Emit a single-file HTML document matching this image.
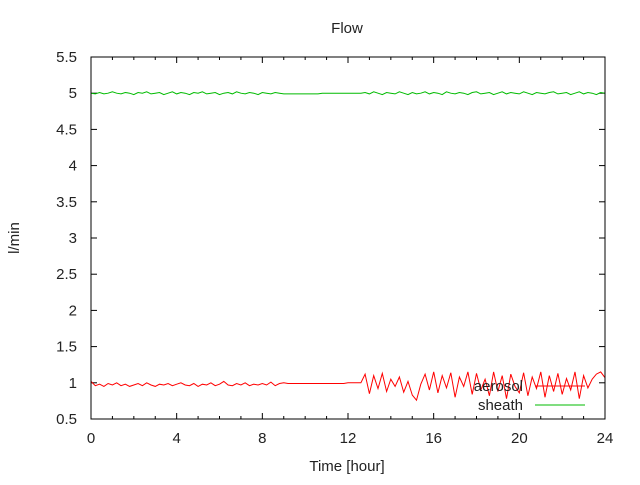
<!DOCTYPE html>
<html><head><meta charset="utf-8"><style>
body{margin:0;background:#fff}
svg text{font-family:"Liberation Sans",sans-serif;font-size:15px;fill:#222}
</style></head><body>
<svg id="c" width="640" height="480">
<rect width="640" height="480" fill="#fff"/>
<text x="347" y="33" text-anchor="middle">Flow</text>
<text x="347" y="471" text-anchor="middle">Time [hour]</text>
<text transform="translate(19,238) rotate(-90)" text-anchor="middle">l/min</text>
<g id="ticks"></g>
<g id="series"></g>
<rect x="91" y="57" width="514" height="362" fill="none" stroke="#000"/>
<g>
<text x="523" y="391" text-anchor="end">aerosol</text>
<line x1="535" y1="386" x2="585" y2="386" stroke="#f00"/>
<text x="523" y="410" text-anchor="end">sheath</text>
<line x1="535" y1="405" x2="585" y2="405" stroke="#0b0"/>
</g>
</svg>
<script>
const xTicks=[0,4,8,12,16,20,24];
const xMinorTicks=[1,2,3,5,6,7,9,10,11,13,14,15,17,18,19,21,22,23];
const yTicks=[0.5,1,1.5,2,2.5,3,3.5,4,4.5,5,5.5];
const yTickLabels=["0.5","1","1.5","2","2.5","3","3.5","4","4.5","5","5.5"];
const timeStep=0.2;
const aerosol=[1.02,0.96,0.98,0.95,0.99,0.97,1.0,0.96,0.98,0.95,0.97,0.99,0.96,1.0,0.97,0.95,0.98,0.97,0.99,0.96,0.98,1.0,0.97,0.96,0.99,0.95,0.98,0.97,1.0,0.96,0.98,1.02,0.97,0.96,0.99,0.97,1.0,0.96,0.98,0.97,0.99,0.97,1.01,0.96,0.99,1.0,0.99,0.99,0.99,0.99,0.99,0.99,0.99,0.99,0.99,0.99,0.99,0.99,0.99,0.99,1.0,1.0,1.0,1.0,1.12,0.85,1.1,0.92,1.13,0.88,1.05,0.95,1.08,0.87,1.02,0.83,0.76,0.98,1.12,0.9,1.15,0.86,1.1,0.93,1.14,0.8,1.08,0.95,1.15,0.84,1.13,0.9,1.05,0.82,1.15,0.88,1.1,0.78,1.12,0.95,0.86,1.14,0.82,1.08,0.92,1.15,0.8,1.1,0.88,1.13,0.84,1.06,0.9,1.15,0.78,1.1,0.93,1.05,1.12,1.15,1.07];
const sheath=[5.0,4.99,5.01,4.99,5.0,5.02,5.0,4.99,5.01,5.0,4.98,5.01,5.0,5.02,4.99,5.0,5.01,4.98,5.0,5.02,4.99,5.01,5.0,4.98,5.01,5.0,5.02,4.99,5.0,5.01,4.98,5.0,5.01,4.99,5.02,5.0,4.99,5.01,5.0,4.98,5.01,5.0,4.99,5.01,5.0,4.99,4.99,4.99,4.99,4.99,4.99,4.99,4.99,4.99,5.0,5.0,5.0,5.0,5.0,5.0,5.0,5.0,5.0,5.0,5.01,4.99,5.02,5.0,4.98,5.01,5.0,4.99,5.02,5.0,4.98,5.01,4.99,5.0,5.02,4.99,5.01,5.0,4.98,5.02,5.0,4.99,5.01,5.0,4.98,5.01,5.02,4.99,5.0,5.01,4.98,5.0,5.02,4.99,5.01,5.0,4.99,5.02,5.0,4.98,5.01,5.0,4.99,5.01,5.02,4.99,5.0,5.01,4.98,5.0,5.02,4.99,5.01,5.0,4.98,5.01,5.0];
const X0=91,X1=605,Y0=419,Y1=57;
const xs=t=>X0+(t-0)/(24-0)*(X1-X0);
const ys=v=>Y0-(v-0.5)/(5.5-0.5)*(Y0-Y1);
const NS="http://www.w3.org/2000/svg";
const tg=document.getElementById('ticks'),sg=document.getElementById('series');
function mk(tag,attrs,parent){const e=document.createElementNS(NS,tag);for(const k in attrs)e.setAttribute(k,attrs[k]);parent.appendChild(e);return e;}
xTicks.forEach(t=>{const x=xs(t);
 const l=mk('line',{x1:x,y1:Y0,x2:x,y2:Y0-6,stroke:'#000'},tg);
 
 
 const l2=mk('line',{x1:x,y1:Y1,x2:x,y2:Y1+6,stroke:'#000'},tg);
 
 
 const tx=mk('text',{x:x,y:443,'text-anchor':'middle'},tg);tx.textContent=t;
 
 
});
xMinorTicks.forEach(t=>{const x=xs(t);
 const l=mk('line',{x1:x,y1:Y0,x2:x,y2:Y0-3,stroke:'#000'},tg);
 
 
 const l2=mk('line',{x1:x,y1:Y1,x2:x,y2:Y1+3,stroke:'#000'},tg);
 
 
});
yTicks.forEach((v,i)=>{const y=ys(v);
 const l=mk('line',{x1:X0,y1:y,x2:X0+6,y2:y,stroke:'#000'},tg);
 
 
 const l2=mk('line',{x1:X1,y1:y,x2:X1-6,y2:y,stroke:'#000'},tg);
 
 
 const tx=mk('text',{x:77,y:y+5,'text-anchor':'end'},tg);tx.textContent=yTickLabels[i];
 
 
});
function line(arr,color,name){
 const pts=arr.map((v,i)=>xs(i*timeStep).toFixed(1)+','+ys(v).toFixed(1)).join(' ');
 const p=mk('polyline',{points:pts,fill:'none',stroke:color,'stroke-width':1},sg);
 
 
}
line(aerosol,'#f00','aerosol-line');
line(sheath,'#0b0','sheath-line');
</script>
</body></html>
